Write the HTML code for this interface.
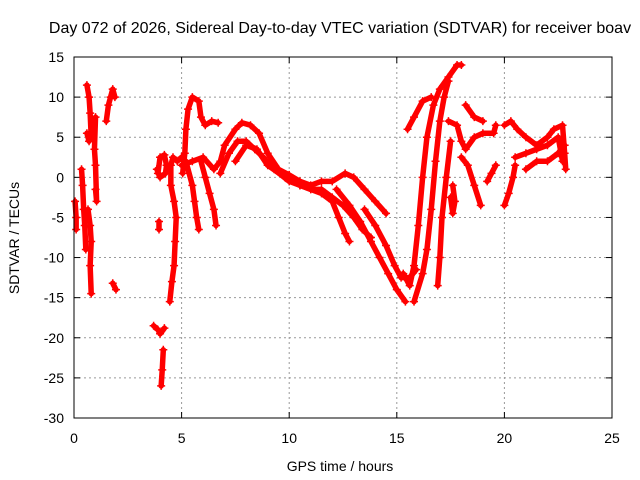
<!DOCTYPE html>
<html><head><meta charset="utf-8"><style>
body{margin:0;background:#fff}
svg{display:block;font-family:"Liberation Sans",sans-serif}
</style></head><body>
<svg id="chart" width="640" height="480">
<text x="340" y="33" font-size="16" text-anchor="middle">Day 072 of 2026, Sidereal Day-to-day VTEC variation (SDTVAR) for receiver boav</text>
<text x="340" y="471" font-size="14" text-anchor="middle">GPS time / hours</text>
<text transform="translate(19,238) rotate(-90)" font-size="14" text-anchor="middle">SDTVAR / TECUs</text>
<g id="grid"></g><g id="ticks"></g><g id="marks"></g>
<rect x="74" y="57" width="538" height="361" fill="none" stroke="#000" stroke-width="1"/>
</svg>
<script>
const xTicks=[0,5,10,15,20,25];
const yTicks=[15,10,5,0,-5,-10,-15,-20,-25,-30];
// tracks: [hour, TECU] points
const trackLeft1=[[0.05,-3],[0.1,-5],[0.1,-6.5]];
const trackLeft2=[[0.35,1],[0.4,-1],[0.45,-4],[0.5,-6],[0.55,-9]];
const trackLeft3=[[0.6,11.5],[0.7,10],[0.75,8],[0.8,5],[0.7,4.5],[0.6,5.5]];
const trackLeft4=[[0.65,-4],[0.75,-6],[0.8,-8],[0.75,-11],[0.8,-14.5]];
const trackLeft5=[[1.0,-1.5],[1.05,-3],[1.0,1.5],[0.95,3.5],[1.0,7.5]];
const trackLeft6=[[1.5,7],[1.6,9],[1.7,10],[1.8,11],[1.9,10]];
const trackLeft7=[[1.8,-13.2],[1.95,-14]];
const trackLoop=[[3.9,0.5],[4.0,2.5],[4.2,2.8],[4.3,1.5],[4.25,0.5],[4.0,0],[3.85,1]];
const trackLow1=[[3.7,-18.5],[3.9,-19],[4.0,-19.5],[4.2,-18.8]];
const trackLow2=[[4.15,-21.5],[4.1,-24],[4.05,-26]];
const trackLow3=[[3.95,-5.5],[3.95,-6.5]];
const trackRise=[[4.45,-15.5],[4.55,-13],[4.65,-11],[4.7,-8],[4.75,-5],[4.65,-3],[4.5,-1],[4.5,1.5],[4.6,2.5],[4.8,2],[5.0,2.5]];
const trackHump=[[5.05,0.5],[5.15,3],[5.2,6],[5.3,8.5],[5.5,10],[5.8,9.5],[5.9,7.5],[6.1,6.5],[6.4,7],[6.7,6.8]];
const trackDip1=[[5.2,2],[5.5,-1],[5.6,-3],[5.7,-5],[5.8,-6.5]];
const trackDip2=[[5.9,2],[6.1,0],[6.3,-2],[6.5,-4],[6.6,-6]];
const trackMid=[[5.0,1.5],[5.5,2],[6.0,2.5],[6.5,1],[6.8,2],[7.0,4],[7.5,6],[7.8,6.8],[8.2,6.5],[8.6,5.5],[9.0,3],[9.5,1],[10,0.3],[10.5,-0.5],[11,-1],[11.5,-0.5],[12,-0.5],[12.6,0.5],[13,0],[13.5,-1.5],[14,-3],[14.5,-4.5]];
const trackMid2=[[6.8,0.5],[7.2,3],[7.6,4.5],[8.0,4.5],[8.4,3.5],[8.8,2.5],[9.3,1],[10,-0.5],[10.5,-1],[11,-1.5],[11.5,-1.5],[12,-2.5],[12.5,-3.5],[13,-5],[13.4,-6.5],[13.8,-7.5]];
const trackMid3=[[7.5,2],[8.0,4],[8.5,3.5],[9.0,1.5],[9.8,0],[10.5,-1],[11.5,-2],[12,-3],[12.3,-5],[12.6,-7],[12.8,-8]];
const trackDeep=[[12.2,-1.5],[12.8,-3.5],[13.3,-5.5],[13.8,-8],[14.2,-10],[14.6,-12],[15.0,-14],[15.4,-15.5]];
const trackDeep2=[[13.5,-4],[14,-6],[14.5,-8.5],[14.9,-11],[15.2,-12.5],[15.6,-12.5],[15.9,-11.5]];
const trackUp1=[[15.3,-12],[15.6,-13.5],[15.8,-11],[16.0,-6],[16.2,0],[16.4,5],[16.7,9],[17.0,11],[17.4,12.5],[17.8,14],[18.0,14]];
const trackUp2=[[15.8,-15.5],[16.2,-12],[16.4,-9],[16.6,-4],[16.8,2],[17.0,7],[17.2,10],[17.4,12]];
const trackUp3=[[16.9,-13.5],[17.0,-10],[17.1,-5],[17.3,0],[17.5,4.5]];
const trackTop=[[15.5,6],[15.8,7.5],[16.2,9.5],[16.6,10]];
const trackR1=[[17.4,7],[17.8,6.5],[18.0,4.5],[18.2,3.5],[18.6,5],[19.0,5.5],[19.5,5.5],[19.6,6.5]];
const trackR2=[[18.2,9],[18.6,7.5],[19.0,7]];
const trackR3=[[18.0,2.5],[18.3,1.5],[18.6,-1],[18.9,-3.5]];
const trackR4=[[17.5,-2.5],[17.6,-4.5],[17.7,-3],[17.6,-1]];
const trackR5=[[19.2,-0.5],[19.4,0.5],[19.6,1.5]];
const trackR6=[[20.0,-3.5],[20.2,-2],[20.4,0],[20.5,1.5]];
const trackR7=[[20.0,6.5],[20.3,7],[20.6,6],[21.0,5],[21.5,4],[22,5],[22.3,6],[22.7,6.5],[22.8,3],[22.85,1]];
const trackR8=[[20.5,2.5],[21,3],[21.5,3.5],[22,4],[22.5,5],[22.7,2]];
const trackR9=[[21.0,1],[21.5,2],[22,2],[22.5,3],[22.8,4]];
const tracks=[trackLeft1,trackLeft2,trackLeft3,trackLeft4,trackLeft5,trackLeft6,trackLeft7,trackLoop,trackLow1,trackLow2,trackLow3,trackRise,trackHump,trackDip1,trackDip2,trackMid,trackMid2,trackMid3,trackDeep,trackDeep2,trackUp1,trackUp2,trackUp3,trackTop,trackR1,trackR2,trackR3,trackR4,trackR5,trackR6,trackR7,trackR8,trackR9];

const NS='http://www.w3.org/2000/svg';
const X=h=>74+h*538/25;
const Y=v=>57+(15-v)*361/45;
function mk(tag,parent,attrs){const e=document.createElementNS(NS,tag);for(const k in attrs)e.setAttribute(k,attrs[k]);parent.appendChild(e);return e;}
const grid=document.getElementById('grid'),ticks=document.getElementById('ticks'),marks=document.getElementById('marks');
xTicks.forEach(t=>{
  if(t>0&&t<25){const g=mk('line',grid,{x1:X(t),x2:X(t),y1:57,y2:418,stroke:'#999','stroke-dasharray':'2,3'});
  
  }
  mk('line',ticks,{x1:X(t),x2:X(t),y1:418,y2:412,stroke:'#000'});
  mk('line',ticks,{x1:X(t),x2:X(t),y1:57,y2:63,stroke:'#000'});
  const tx=mk('text',ticks,{x:X(t),y:443,'font-size':14,'text-anchor':'middle'});tx.textContent=t;
  
  
});
yTicks.forEach(t=>{
  if(t<15&&t>-30){const g=mk('line',grid,{x1:74,x2:612,y1:Y(t),y2:Y(t),stroke:'#999','stroke-dasharray':'2,3'});
  
  }
  mk('line',ticks,{x1:74,x2:80,y1:Y(t),y2:Y(t),stroke:'#000'});
  mk('line',ticks,{x1:612,x2:606,y1:Y(t),y2:Y(t),stroke:'#000'});
  const tx=mk('text',ticks,{x:64,y:Y(t)+5,'font-size':14,'text-anchor':'end'});tx.textContent=t;
  
  
});
tracks.forEach(tr=>{
  const pl=mk('polyline',marks,{points:tr.map(p=>X(p[0])+','+Y(p[1])).join(' '),fill:'none',stroke:'#f00','stroke-width':5.5,'stroke-linejoin':'round','stroke-linecap':'round'});
  
  
  tr.forEach(p=>{
    const m=mk('path',marks,{d:`M${X(p[0])-4},${Y(p[1])}h8M${X(p[0])},${Y(p[1])-4}v8`,stroke:'#f00','stroke-width':1.5});
    
    
  });
});
</script>
</body></html>
